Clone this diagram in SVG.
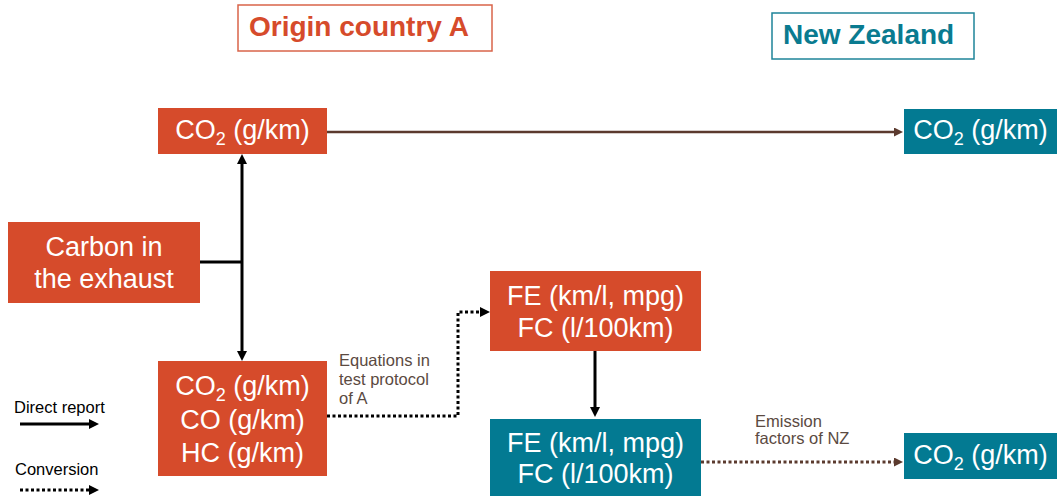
<svg xmlns="http://www.w3.org/2000/svg" width="1061" height="496" viewBox="0 0 1061 496">
<style>
.org{fill:#D64B2B}
.teal{fill:#037A92}
.bt{font-family:"Liberation Sans",Arial,sans-serif;font-size:27px;fill:#fff;text-anchor:middle}
.sub{font-size:18px}
.title{font-family:"Liberation Sans",Arial,sans-serif;font-size:28px;font-weight:bold}
.lbl{font-family:"Liberation Sans",Arial,sans-serif;font-size:16.5px;fill:#5B4A42}
.leg{font-family:"Liberation Sans",Arial,sans-serif;font-size:16.5px;fill:#000}
.solid{fill:none;stroke:#000;stroke-width:3}
.dotk{fill:none;stroke:#000;stroke-width:3;stroke-dasharray:3 2.5}
.dotb{fill:none;stroke:#5B3A2E;stroke-width:3;stroke-dasharray:3 2.5}
</style>
<defs>
<marker id="ak" viewBox="0 0 10 10" refX="0" refY="5" markerWidth="10" markerHeight="10" markerUnits="userSpaceOnUse" orient="auto"><path d="M0,0L10,5L0,10z" fill="#000"/></marker>
<marker id="ab" viewBox="0 0 10 10" refX="0" refY="5" markerWidth="9" markerHeight="9" markerUnits="userSpaceOnUse" orient="auto"><path d="M0,0L10,5L0,10z" fill="#5B3A2E"/></marker>
</defs>
<g id="title-origin">
<rect x="238" y="5" width="254" height="46" fill="#fff" stroke="#D9644A" stroke-width="1.5"/>
<text class="title" x="249" y="36" fill="#D64B2B">Origin country A</text>
</g>
<g id="title-nz">
<rect x="772" y="13" width="202" height="46" fill="#fff" stroke="#1E8499" stroke-width="1.5"/>
<text class="title" x="783" y="44" fill="#0A7B90">New Zealand</text>
</g>
<g id="connectors">
<path d="M327,132H894" fill="none" stroke="#5B3A2E" stroke-width="2.5" marker-end="url(#ab)"/>
<path d="M200,262H242" class="solid"/>
<path d="M242,262V164" class="solid" marker-end="url(#ak)"/>
<path d="M242,262V351" class="solid" marker-end="url(#ak)"/>
<path d="M327,416H458V312H480" class="dotk" marker-end="url(#ak)"/>
<path d="M595,351V407" class="solid" marker-end="url(#ak)"/>
<path d="M701,462H894" class="dotb" marker-end="url(#ab)"/>
<path d="M20,424H89" class="solid" marker-end="url(#ak)"/>
<path d="M20,490H89" class="dotk" marker-end="url(#ak)"/>
</g>
<g id="co2-a">
<rect class="org" x="158" y="108" width="169" height="46"/>
<text class="bt" x="242.5" y="139">CO<tspan class="sub" dy="6">2</tspan><tspan dy="-6"> (g/km)</tspan></text>
</g>
<g id="co2-nz-top">
<rect class="teal" x="904" y="109" width="153" height="45"/>
<text class="bt" x="980.5" y="139">CO<tspan class="sub" dy="6">2</tspan><tspan dy="-6"> (g/km)</tspan></text>
</g>
<g id="carbon">
<rect class="org" x="8" y="222" width="192" height="81"/>
<text class="bt" x="104" y="256">Carbon in</text>
<text class="bt" x="104" y="288">the exhaust</text>
</g>
<g id="emissions-a">
<rect class="org" x="158" y="361" width="169" height="115"/>
<text class="bt" x="242.5" y="395">CO<tspan class="sub" dy="6">2</tspan><tspan dy="-6"> (g/km)</tspan></text>
<text class="bt" x="242.5" y="429">CO (g/km)</text>
<text class="bt" x="242.5" y="462">HC (g/km)</text>
</g>
<g id="fefc-a">
<rect class="org" x="490" y="271" width="211" height="80"/>
<text class="bt" x="595.5" y="305">FE (km/l, mpg)</text>
<text class="bt" x="595.5" y="337">FC (l/100km)</text>
</g>
<g id="fefc-nz">
<rect class="teal" x="490" y="419" width="211" height="77"/>
<text class="bt" x="595.5" y="452">FE (km/l, mpg)</text>
<text class="bt" x="595.5" y="483">FC (l/100km)</text>
</g>
<g id="co2-nz-bottom">
<rect class="teal" x="904" y="433" width="153" height="46"/>
<text class="bt" x="980.5" y="464">CO<tspan class="sub" dy="6">2</tspan><tspan dy="-6"> (g/km)</tspan></text>
</g>
<g id="label-equations">
<text class="lbl" x="339" y="366">Equations in</text>
<text class="lbl" x="339" y="385">test protocol</text>
<text class="lbl" x="339" y="404">of A</text>
</g>
<g id="label-emission">
<text class="lbl" x="755" y="427">Emission</text>
<text class="lbl" x="755" y="444">factors of NZ</text>
</g>
<g id="legend">
<text class="leg" x="14" y="413">Direct report</text>
<text class="leg" x="15" y="475">Conversion</text>
</g>
</svg>
